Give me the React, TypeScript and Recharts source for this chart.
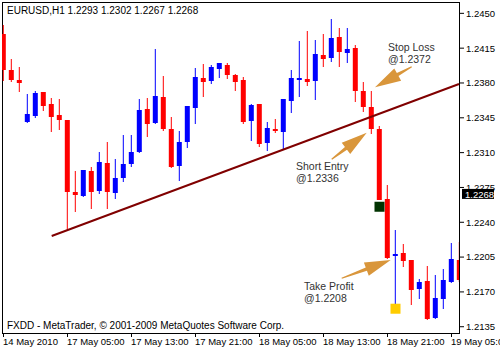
import { Bar, ComposedChart, ReferenceArea, ReferenceDot, ReferenceLine, XAxis, YAxis } from 'recharts'

const FONT = "'Liberation Sans', Arial, sans-serif"

// EURUSD H1 bars, left to right
const opens = [
  1.2429, 1.2393, 1.2383, 1.2341, 1.2347, 1.2371, 1.2359, 1.2348, 1.2343, 1.2270,
  1.2266, 1.2292, 1.2271, 1.2300, 1.2269, 1.2284, 1.2299, 1.2311, 1.2354, 1.2340,
  1.2366, 1.2334, 1.2297, 1.2321, 1.2355, 1.2385, 1.2382, 1.2394, 1.2398, 1.2388,
  1.2383, 1.2342, 1.2359, 1.2320, 1.2334, 1.2331, 1.2362, 1.2383, 1.2384, 1.2382,
  1.2408, 1.2405, 1.2426, 1.2410, 1.2415, 1.2372, 1.2356, 1.2334, 1.2263, 1.2206,
  1.2209, 1.2202, 1.2173, 1.2181, 1.2144, 1.2163, 1.2180, 1.2202,
]
const highs = [
  1.2438, 1.2404, 1.2396, 1.2369, 1.2372, 1.2371, 1.2365, 1.2364, 1.2343, 1.2292,
  1.2293, 1.2296, 1.2311, 1.2321, 1.2304, 1.2328, 1.2328, 1.2364, 1.2365, 1.2414,
  1.2387, 1.2346, 1.2332, 1.2357, 1.2395, 1.2399, 1.2398, 1.2400, 1.2400, 1.2389,
  1.2386, 1.2359, 1.2359, 1.2341, 1.2344, 1.2364, 1.2393, 1.2422, 1.2432, 1.2423,
  1.2429, 1.2444, 1.2435, 1.2435, 1.2418, 1.2381, 1.2372, 1.2337, 1.2277, 1.2232,
  1.2218, 1.2202, 1.2183, 1.2196, 1.2187, 1.2193, 1.2219, 1.2220,
]
const lows = [
  1.2382, 1.2381, 1.2371, 1.2340, 1.2345, 1.2352, 1.2331, 1.2333, 1.2232, 1.2250,
  1.2265, 1.2253, 1.2268, 1.2253, 1.2263, 1.2280, 1.2296, 1.2310, 1.2326, 1.2339,
  1.2332, 1.2295, 1.2281, 1.2315, 1.2339, 1.2366, 1.2379, 1.2385, 1.2384, 1.2372,
  1.2339, 1.2322, 1.2316, 1.2312, 1.2330, 1.2314, 1.2350, 1.2366, 1.2377, 1.2363,
  1.2396, 1.2401, 1.2396, 1.2400, 1.2361, 1.2351, 1.2329, 1.2262, 1.2203, 1.2157,
  1.2195, 1.2157, 1.2163, 1.2142, 1.2143, 1.2153, 1.2179, 1.2180,
]
const closes = [
  1.2393, 1.2383, 1.2380, 1.2349, 1.2370, 1.2357, 1.2346, 1.2343, 1.2270, 1.2267,
  1.2293, 1.2270, 1.2301, 1.2270, 1.2284, 1.2299, 1.2311, 1.2353, 1.2339, 1.2367,
  1.2334, 1.2296, 1.2321, 1.2357, 1.2386, 1.2381, 1.2396, 1.2400, 1.2388, 1.2381,
  1.2341, 1.2358, 1.2319, 1.2335, 1.2332, 1.2364, 1.2385, 1.2385, 1.2381, 1.2409,
  1.2404, 1.2425, 1.2411, 1.2414, 1.2372, 1.2356, 1.2334, 1.2262, 1.2204, 1.2208,
  1.2201, 1.2172, 1.2180, 1.2143, 1.2164, 1.2182, 1.2203, 1.2182,
]

const timeLabels = ['14 May 2010', '17 May 05:00', '17 May 13:00', '17 May 21:00', '18 May 05:00', '18 May 13:00', '18 May 21:00', '19 May 05:00']
const timeTicks = [0, 8, 16, 24, 32, 40, 48, 56]
const priceTicks = [1.2135, 1.217, 1.2205, 1.224, 1.2275, 1.231, 1.2345, 1.238, 1.2415, 1.245]
const xDomain = [-0.1875, 56.9375]
const yDomain = [1.21287, 1.24614]
const lastPrice = 1.2268

const trendLine = [{ x: 6.025, y: 1.22262 }, { x: 56.9375, y: 1.2379 }]
const markers = [
  { bar: 47, price: 1.22556, color: '#013301' },
  { bar: 49, price: 1.21531, color: '#ffcc00' },
]
const arrows = [
  { from: { x: 51.025, y: 1.23964 }, to: { x: 46.44, y: 1.23757 } },
  { from: { x: 41.025, y: 1.23033 }, to: { x: 45.4, y: 1.2330 } },
  { from: { x: 42.275, y: 1.21837 }, to: { x: 48.4, y: 1.22021 } },
]
const notes = [
  { x: 388, y: 51, lines: ['Stop Loss', '@1.2372'] },
  { x: 296, y: 170, lines: ['Short Entry', '@1.2336'] },
  { x: 304, y: 290, lines: ['Take Profit', '@1.2208'] },
]

const data = opens.map((open, i) => ({
  i,
  open,
  close: closes[i],
  high: highs[i],
  low: lows[i],
  range: [lows[i], highs[i]],
}))

function Candle(props: any) {
  const { x, y, width, height, payload } = props
  const { open, close, high, low } = payload
  const cx = x + width / 2
  const py = (p: number) => y + ((high - p) / (high - low)) * height
  const color = close >= open ? '#0000ff' : '#ff0000'
  const top = Math.round(py(Math.max(open, close)))
  const bot = Math.round(py(Math.min(open, close)))
  const wt = Math.round(y)
  const wb = Math.round(y + height)
  return (
    <g>
      <rect x={cx - 0.5} y={wt} width={1} height={Math.max(1, wb - wt)} fill={color} />
      <rect x={cx - 2.5} y={top} width={5} height={Math.max(1, bot - top)} fill={color} />
    </g>
  )
}

function TimeTick(props: any) {
  const { x, y, payload } = props
  return (
    <text x={x - 0.5} y={y + 6} fontSize={9.5} fontFamily={FONT} fill="#000" textAnchor="start">
      {timeLabels[timeTicks.indexOf(payload.value)]}
    </text>
  )
}

function Arrow(props: any) {
  const { x1, y1, x2, y2 } = props
  const dx = x2 - x1
  const dy = y2 - y1
  const len = Math.hypot(dx, dy)
  const ux = dx / len
  const uy = dy / len
  const nx = -uy
  const ny = ux
  const head = 26
  const half = 7
  const shaft = 1.7
  const bx = x2 - ux * head
  const by = y2 - uy * head
  const pts = [
    [x1 + nx * 0.6, y1 + ny * 0.6],
    [bx + nx * shaft, by + ny * shaft],
    [bx + nx * half, by + ny * half],
    [x2, y2],
    [bx - nx * half, by - ny * half],
    [bx - nx * shaft, by - ny * shaft],
    [x1 - nx * 0.6, y1 - ny * 0.6],
  ]
  return <polygon points={pts.map(p => p.join(',')).join(' ')} fill="#d9963b" />
}

function PriceTag(props: any) {
  const vb = props.viewBox
  const x = vb.x + vb.width
  const y = vb.y
  return (
    <g>
      <rect x={x + 3} y={y - 5.5} width={32} height={10} fill="#000" />
      <text x={x + 6} y={y + 3.5} fontSize={9.5} fontFamily={FONT} fill="#fff">
        {lastPrice.toFixed(4)}
      </text>
    </g>
  )
}

export default function App() {
  return (
    <div style={{ position: 'absolute', left: 0, top: 0, width: 500, height: 350, background: '#fff' }}>
      <ComposedChart width={500} height={350} data={data} margin={{ top: 2, right: 0, bottom: 0, left: 2 }}>
        <XAxis
          dataKey="i"
          type="number"
          domain={xDomain}
          allowDataOverflow
          ticks={timeTicks}
          interval={0}
          height={17}
          tickSize={4}
          axisLine={false}
          tickLine={{ stroke: '#000' }}
          tick={<TimeTick />}
        />
        <YAxis
          orientation="right"
          type="number"
          domain={yDomain}
          allowDataOverflow
          ticks={priceTicks}
          interval={0}
          width={41}
          tickSize={5}
          tickMargin={2}
          axisLine={false}
          tickLine={{ stroke: '#000' }}
          tickFormatter={(v: number) => v.toFixed(4)}
          tick={{ fontSize: 9.5, fill: '#000', fontFamily: FONT }}
        />
        <ReferenceArea
          x1={xDomain[0]}
          x2={xDomain[1]}
          y1={yDomain[0]}
          y2={yDomain[1]}
          shape={(p: any) => (
            <rect x={p.x + 0.5} y={p.y + 0.5} width={p.width} height={p.height} fill="none" stroke="#000" />
          )}
        />
        <ReferenceLine segment={trendLine} stroke="#800000" strokeWidth={2} />
        <Bar dataKey="range" shape={<Candle />} isAnimationActive={false} />
        {markers.map((m, i) => (
          <ReferenceDot
            key={i}
            x={m.bar}
            y={m.price}
            shape={(p: any) => <rect x={p.cx - 5} y={p.cy - 5} width={10} height={10} fill={m.color} />}
          />
        ))}
        {arrows.map((a, i) => (
          <ReferenceLine key={i} segment={[a.from, a.to]} shape={<Arrow />} />
        ))}
        <ReferenceLine y={lastPrice} stroke="none" ifOverflow="visible" label={(p: any) => <PriceTag {...p} />} />
        <text x={7} y={14} fontSize={10} fontFamily={FONT} fill="#000">
          EURUSD,H1  1.2293 1.2302 1.2267 1.2268
        </text>
        <text x={7} y={329} fontSize={10} fontFamily={FONT} fill="#000">
          FXDD - MetaTrader, © 2001-2009 MetaQuotes Software Corp.
        </text>
        {notes.map((n, i) => (
          <text key={i} x={n.x} y={n.y} fontSize={10.5} fontFamily={FONT} fill="#333">
            {n.lines.map((l, j) => (
              <tspan key={j} x={n.x} dy={j === 0 ? 0 : 12}>{l}</tspan>
            ))}
          </text>
        ))}
      </ComposedChart>
    </div>
  )
}
